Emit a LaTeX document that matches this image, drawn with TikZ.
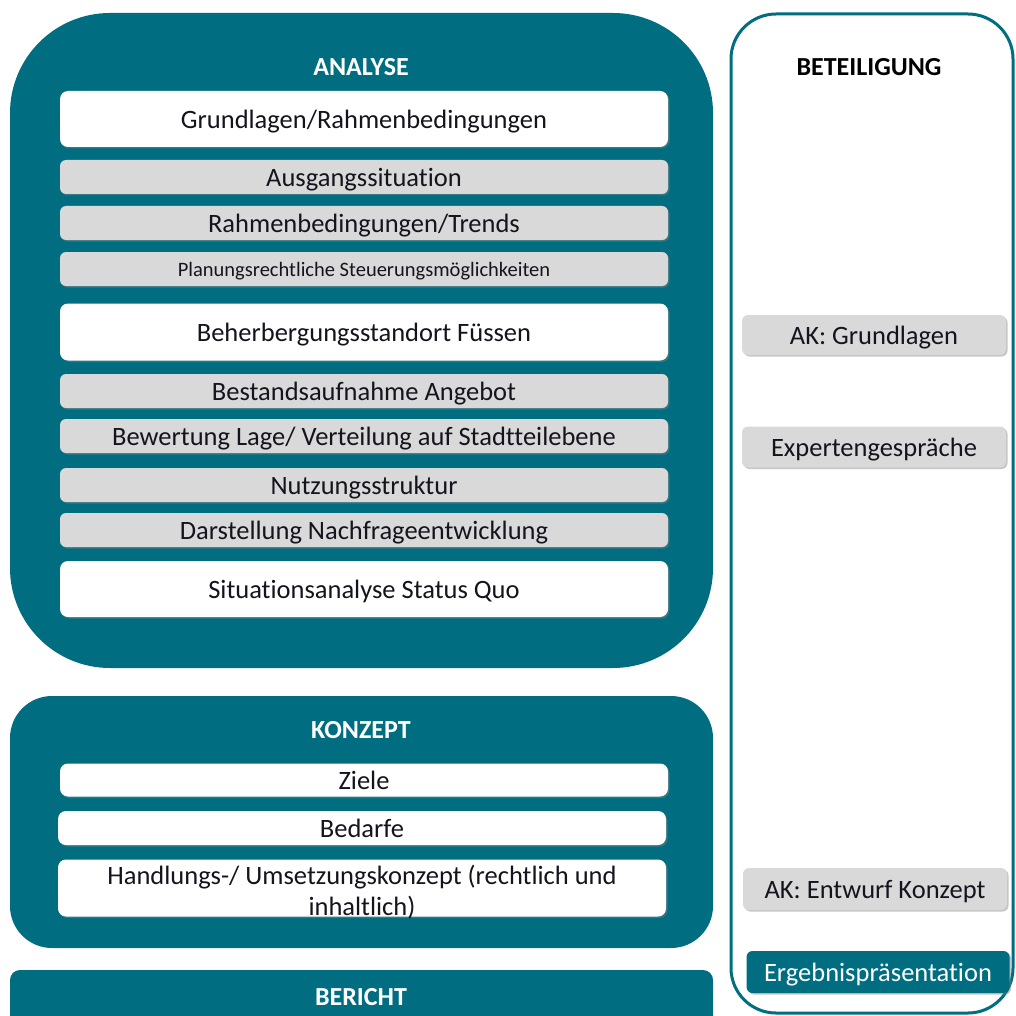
\documentclass[tikz,border=0pt]{standalone}
\usepackage{fontspec}
\setmainfont{Carlito}[Ligatures={NoCommon}]
\usetikzlibrary{shadows}
\definecolor{teal1}{RGB}{0,110,128}
\definecolor{gray1}{RGB}{217,217,217}
\definecolor{ink}{RGB}{20,20,30}
\tikzset{
  phase/.style={fill=teal1, draw=none},
  title/.style={font=\fontsize{26}{30}\selectfont\bfseries, text=white, inner sep=0pt},
  boxbase/.style={inner sep=0pt, align=center, text=ink,
    font=\fontsize{26.5}{30.5}\selectfont, text height=22pt, text depth=2.6pt,
    drop shadow={opacity=0.45, shadow xshift=1.5pt, shadow yshift=-1.5pt}},
  wbox/.style={boxbase, fill=white, rounded corners=8pt},
  gbox/.style={boxbase, fill=gray1, rounded corners=6pt},
  tbox/.style={boxbase, fill=teal1, rounded corners=6pt, text=white},
  plain/.style={inner sep=0pt, align=center, text=ink, font=\fontsize{26.5}{30.5}\selectfont},
}
\begin{document}
\begin{tikzpicture}[x=1pt,y=-1pt]
\useasboundingbox (0,0) rectangle (1015,1016);
% Analyse
\fill[phase, rounded corners=100pt] (10,13) rectangle (713,668);
\node[title] (tA) at (361,67) {ANALYSE};
\node[wbox, minimum width=608pt, minimum height=56pt] (a1) at (364,119) {Grundlagen/Rahmenbedingungen};
\node[gbox, minimum width=608pt, minimum height=34pt] (a2) at (364,177) {Ausgangssituation};
\node[gbox, minimum width=608pt, minimum height=34pt] (a3) at (364,223) {Rahmenbedingungen/Trends};
\node[gbox, minimum width=608pt, minimum height=34pt, font=\fontsize{20.5}{24}\selectfont, text height=17pt, text depth=1.5pt] (a4) at (364,269) {Planungsrechtliche Steuerungsmöglichkeiten};
\node[wbox, minimum width=608pt, minimum height=57pt] (a5) at (364,332) {Beherbergungsstandort Füssen};
\node[gbox, minimum width=608pt, minimum height=34pt] (a6) at (364,391) {Bestandsaufnahme Angebot};
\node[gbox, minimum width=608pt, minimum height=34pt] (a7) at (364,436) {Bewertung Lage/ Verteilung auf Stadtteilebene};
\node[gbox, minimum width=608pt, minimum height=34pt] (a8) at (364,485) {Nutzungsstruktur};
\node[gbox, minimum width=608pt, minimum height=34pt] (a9) at (364,530) {Darstellung Nachfrageentwicklung};
\node[wbox, minimum width=608pt, minimum height=56pt] (a10) at (364,589) {Situationsanalyse Status Quo};
% Konzept
\fill[phase, rounded corners=42pt] (10,696) rectangle (713,948);
\node[title] (tK) at (361,730) {KONZEPT};
\node[wbox, minimum width=608pt, minimum height=33pt] (k1) at (364,780) {Ziele};
\node[wbox, minimum width=608pt, minimum height=34pt] (k2) at (362,828) {Bedarfe};
\node[wbox, minimum width=608pt, minimum height=57pt] (k3) at (362,888) {};
\node[plain] (k3t) at (362,892) {Handlungs-/ Umsetzungskonzept (rechtlich und\\inhaltlich)};
% Bericht
\fill[phase, rounded corners=10pt] (10,970) rectangle (713,1030);
\node[title] (tB) at (361,997) {BERICHT};
% Beteiligung
\draw[teal1, line width=3pt, rounded corners=45pt] (731,14) rectangle (1013,1013);
\node[title, text=black] (tP) at (869,67) {BETEILIGUNG};
\node[gbox, minimum width=264pt, minimum height=40pt] (p1) at (874,335) {AK: Grundlagen};
\node[gbox, minimum width=264pt, minimum height=41pt] (p2) at (874,447) {Expertengespräche};
\node[gbox, minimum width=264pt, minimum height=42pt] (p3) at (875,889) {AK: Entwurf Konzept};
\node[tbox, minimum width=263pt, minimum height=42pt] (p4) at (878,972) {Ergebnispräsentation};
\end{tikzpicture}
\end{document}
